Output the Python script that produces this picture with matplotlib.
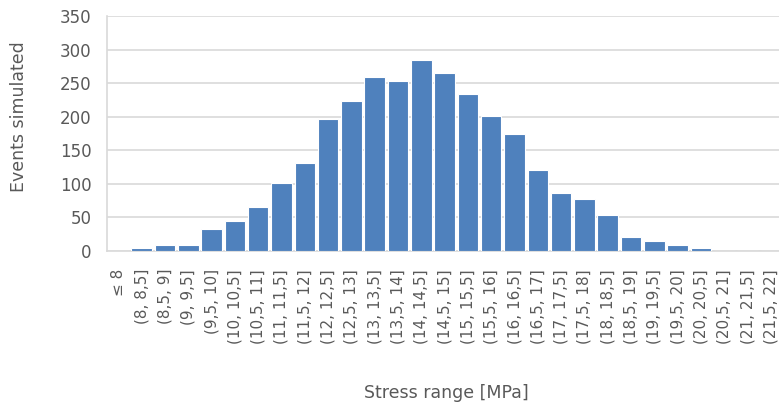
import matplotlib.pyplot as plt

# Stress range bins (decimal comma labels) and simulated event counts
bins = ["≤ 8", "(8, 8,5]", "(8,5, 9]", "(9, 9,5]", "(9,5, 10]", "(10, 10,5]",
        "(10,5, 11]", "(11, 11,5]", "(11,5, 12]", "(12, 12,5]", "(12,5, 13]",
        "(13, 13,5]", "(13,5, 14]", "(14, 14,5]", "(14,5, 15]", "(15, 15,5]",
        "(15,5, 16]", "(16, 16,5]", "(16,5, 17]", "(17, 17,5]", "(17,5, 18]",
        "(18, 18,5]", "(18,5, 19]", "(19, 19,5]", "(19,5, 20]", "(20, 20,5]",
        "(20,5, 21]", "(21, 21,5]", "(21,5, 22]"]
events = [0, 4, 9, 9, 33, 45, 65, 101, 131, 197, 223, 259, 253, 285, 265,
          234, 202, 175, 121, 87, 77, 53, 21, 15, 9, 4, 0, 0, 0]

text_color = "#595959"
grid_color = "#D9D9D9"

fig = plt.figure(figsize=(7.79, 4.08), dpi=100)
ax = fig.add_axes([0.137, 0.385, 0.8675, 0.575])

x = range(len(bins))
ax.bar(x, events, width=0.88, color="#4F81BD", edgecolor="white", linewidth=0.8, zorder=3)

ax.set_xlim(-0.5, len(bins) - 0.5)
ax.set_ylim(0, 350)
ax.set_yticks(range(0, 351, 50))
ax.yaxis.grid(True, color=grid_color, linewidth=1.2, zorder=0)

ax.set_xticks(list(x))
ax.set_xticklabels(bins, rotation=90, fontsize=11, color=text_color)
for lbl in ax.get_yticklabels():
    lbl.set_fontsize(12)
    lbl.set_color(text_color)

ax.tick_params(axis="both", length=0)
ax.tick_params(axis="y", pad=11)
ax.tick_params(axis="x", pad=13)

for side in ["top", "right"]:
    ax.spines[side].set_visible(False)
for side in ["left", "bottom"]:
    ax.spines[side].set_color(grid_color)
    ax.spines[side].set_linewidth(1.2)

fig.text(0.024, 0.715, "Events simulated", rotation=90, ha="center", va="center",
         fontsize=12.5, color=text_color)
fig.text(0.573, 0.037, "Stress range [MPa]", ha="center", va="center",
         fontsize=12.5, color=text_color)

fig.savefig("out.png", dpi=100)
